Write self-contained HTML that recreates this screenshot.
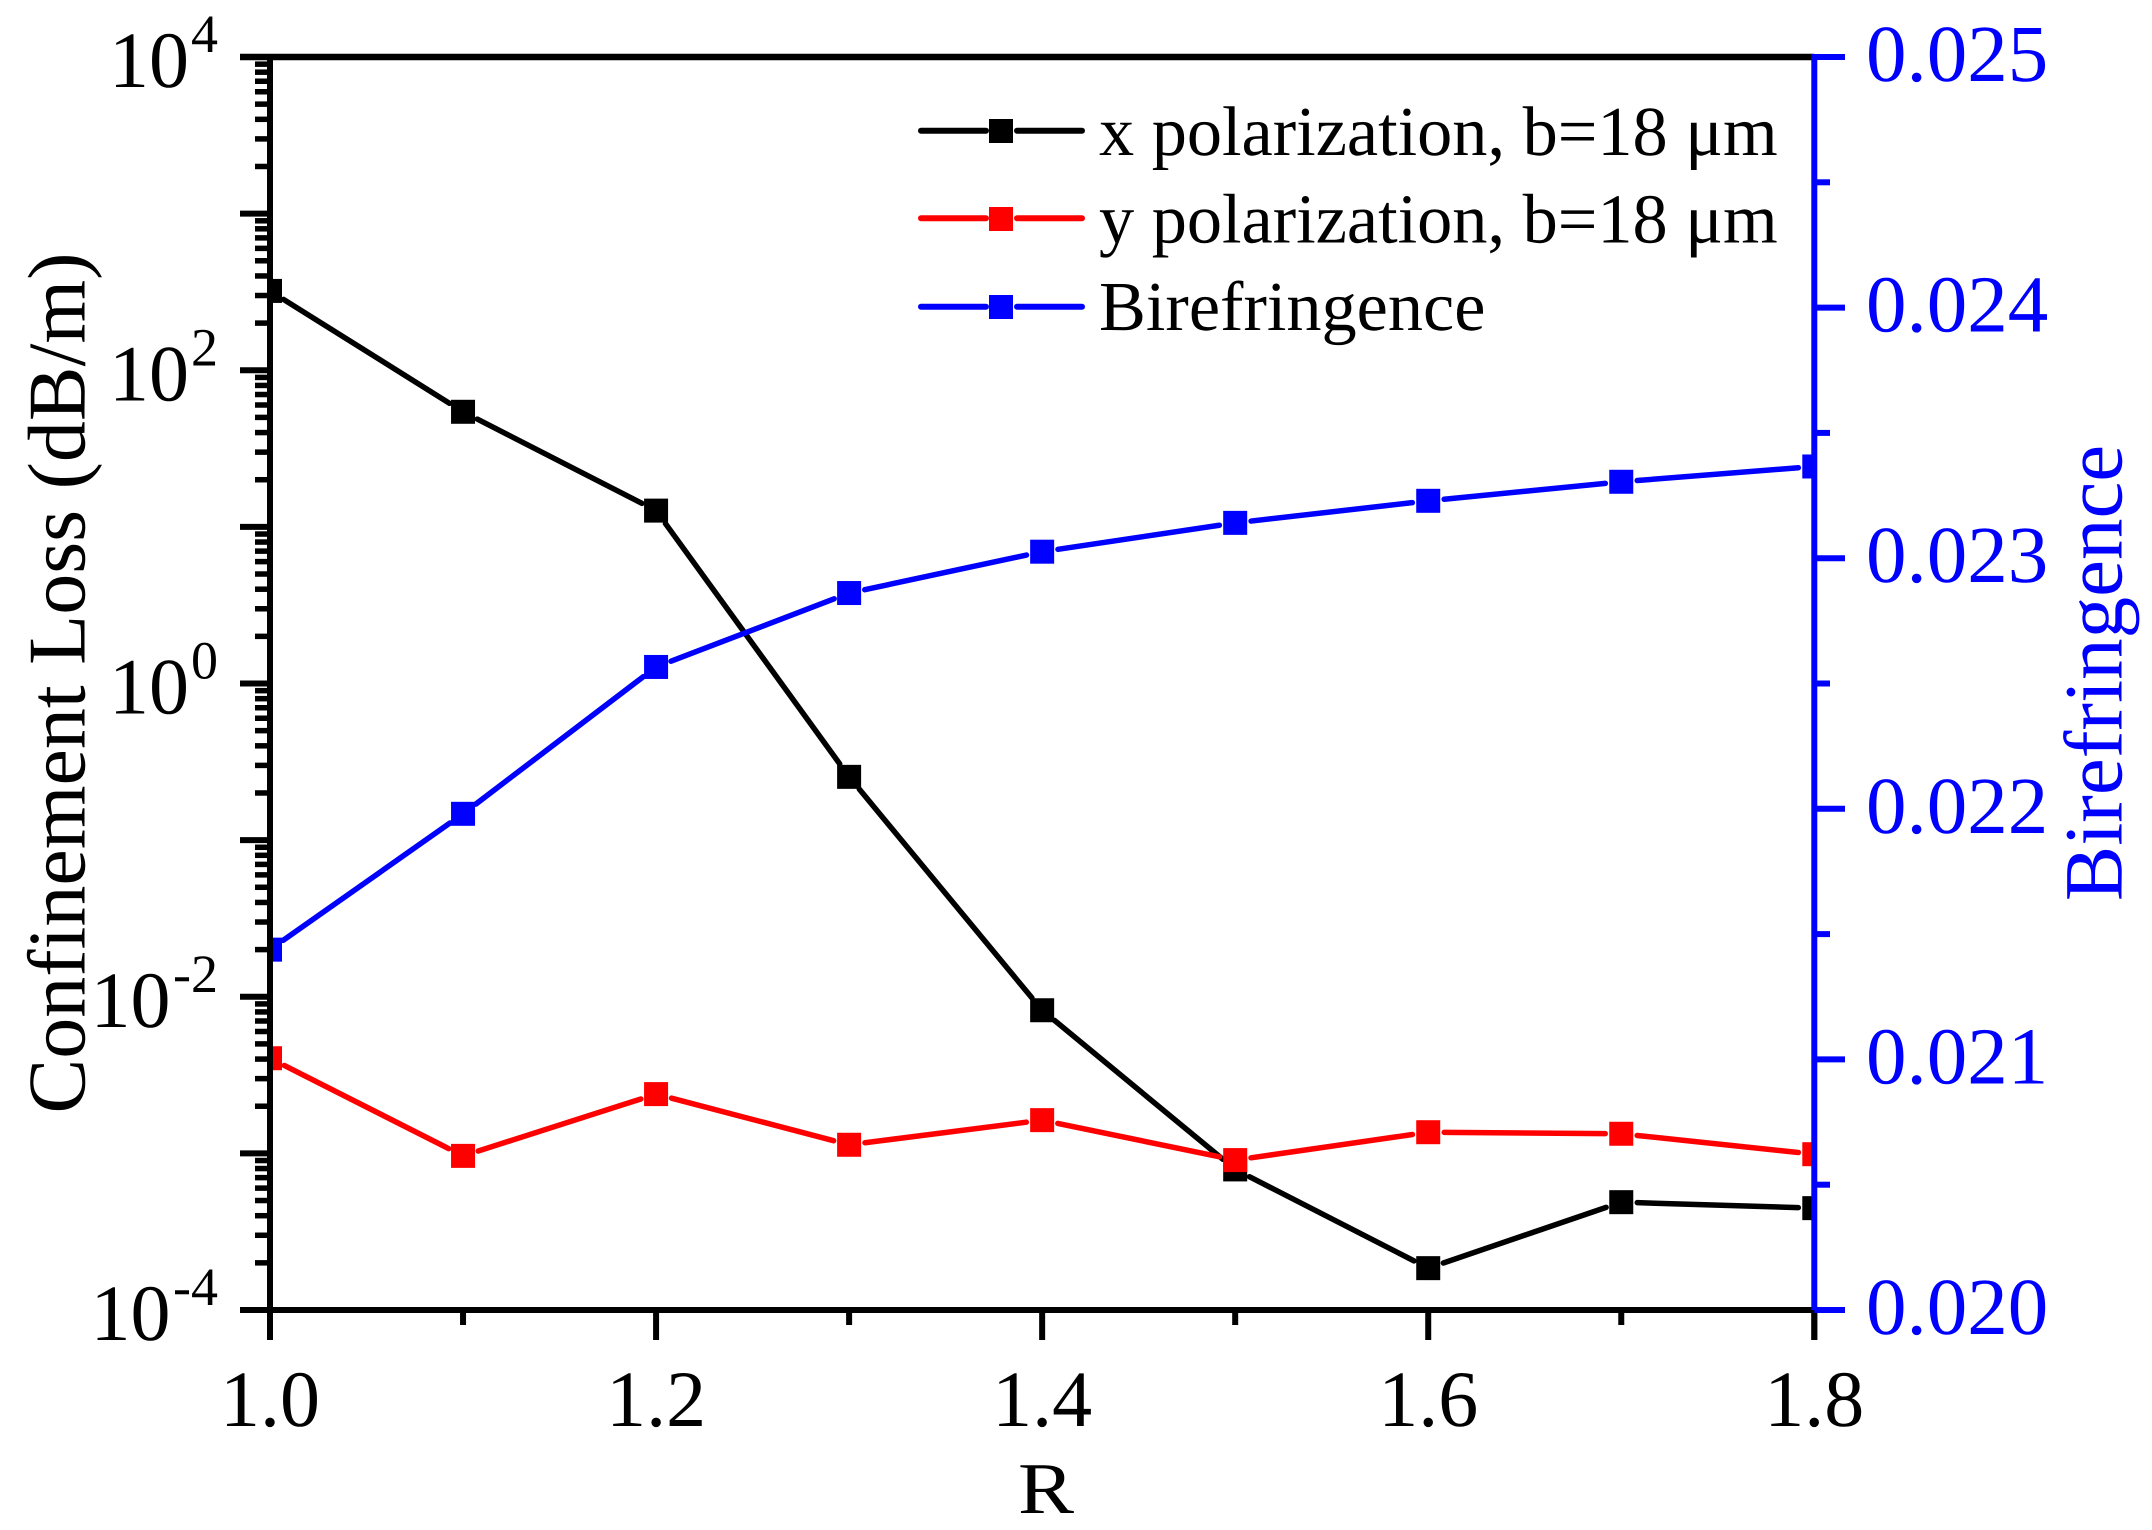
<!DOCTYPE html>
<html lang="en">
<head>
<meta charset="utf-8">
<title>Confinement Loss and Birefringence vs R</title>
<style>
html,body{margin:0;padding:0;background:#fff;width:2152px;height:1530px;overflow:hidden}
svg{display:block;font-family:"Liberation Serif",serif;text-rendering:geometricPrecision}
</style>
</head>
<body>
<svg id="chart" xmlns="http://www.w3.org/2000/svg" width="2152" height="1530" viewBox="0 0 2152 1530">
<rect width="2152" height="1530" fill="#fff"/>
<defs><clipPath id="plot-clip"><rect x="270" y="57" width="1544.3" height="1253"/></clipPath></defs>
<g id="series" clip-path="url(#plot-clip)"></g>
<g id="axes"></g>
<text font-size="82" text-anchor="middle" transform="translate(84.5 683) rotate(-90)">Confinement Loss (dB/m)</text>
<text font-size="73" text-anchor="middle" transform="translate(1046 1513) scale(1.15 1)">R</text>
<text font-size="83" fill="#0000ff" text-anchor="middle" transform="translate(2121.7 673) rotate(-90)">Birefringence</text>
<g>
<g>
<line x1="921" y1="130.7" x2="986" y2="130.7" stroke="#000" stroke-width="6" stroke-linecap="round"/>
<line x1="1017" y1="130.7" x2="1082" y2="130.7" stroke="#000" stroke-width="6" stroke-linecap="round"/>
<rect x="989" y="119" width="24" height="24" fill="#000"/>
<text x="1099" y="155" font-size="70.3">x polarization, b=18 μm</text>
</g>
<g>
<line x1="921" y1="218.3" x2="986" y2="218.3" stroke="#ff0000" stroke-width="6" stroke-linecap="round"/>
<line x1="1017" y1="218.3" x2="1082" y2="218.3" stroke="#ff0000" stroke-width="6" stroke-linecap="round"/>
<rect x="989" y="207" width="24" height="24" fill="#ff0000"/>
<text x="1099" y="242.7" font-size="70.3">y polarization, b=18 μm</text>
</g>
<g>
<line x1="921" y1="306.7" x2="986" y2="306.7" stroke="#0000ff" stroke-width="6" stroke-linecap="round"/>
<line x1="1017" y1="306.7" x2="1082" y2="306.7" stroke="#0000ff" stroke-width="6" stroke-linecap="round"/>
<rect x="989" y="295" width="24" height="24" fill="#0000ff"/>
<text x="1099" y="330" font-size="70.3">Birefringence</text>
</g>
</g>
</svg>
<script>
const categories = [1.0, 1.1, 1.2, 1.3, 1.4, 1.5, 1.6, 1.7, 1.8];
const xPolarization = [321, 54.3, 12.7, 0.2535, 0.0082, 0.00079, 0.000185, 0.000488, 0.000447];
const yPolarization = [0.00405, 0.000964, 0.00239, 0.001135, 0.00163, 0.000906, 0.001365, 0.001334, 0.000988];
const birefringence = [0.021438, 0.02198, 0.022566, 0.022861, 0.023026, 0.023141, 0.023229, 0.023305, 0.023366];
const xTicks = [1.0, 1.1, 1.2, 1.3, 1.4, 1.5, 1.6, 1.7, 1.8];
const xTickLabels = ['1.0', '', '1.2', '', '1.4', '', '1.6', '', '1.8'];
const leftDecades = [-4, -3, -2, -1, 0, 1, 2, 3, 4];
const leftLabelExponents = ['4', '2', '0', '-2', '-4'];
const rightTicks = [0.020, 0.0205, 0.021, 0.0215, 0.022, 0.0225, 0.023, 0.0235, 0.024, 0.0245, 0.025];
const rightTickLabels = ['0.020', '', '0.021', '', '0.022', '', '0.023', '', '0.024', '', '0.025'];

const NS = 'http://www.w3.org/2000/svg';
const PL = 270, PR = 1814.3, PT = 57, PB = 1310;
const xScale = v => PL + (v - 1.0) / 0.8 * (PR - PL);
const yLeft = v => PB - (Math.log10(v) + 4) / 8 * (PB - PT);
const yRight = v => PB - (v - 0.020) / 0.005 * (PB - PT);
const seriesG = document.getElementById('series');
const axesG = document.getElementById('axes');

function make(tag, attrs, parent, text) {
  const el = document.createElementNS(NS, tag);
  for (const k in attrs) el.setAttribute(k, attrs[k]);
  if (text !== undefined) el.textContent = text;
  parent.appendChild(el);
  return el;
}
function axisLine(x1, y1, x2, y2, color, w, name) {
  const el = make('line', {x1, y1, x2, y2, stroke: color, 'stroke-width': w}, axesG);
  
  
  return el;
}

function drawSeries(values, yFn, color, name) {
  const g = make('g', {}, seriesG);
  
  
  const pts = values.map((v, i) => [xScale(categories[i]), yFn(v)]);
  const GAP = 16;
  for (let i = 0; i < pts.length - 1; i++) {
    const [a, b] = [pts[i], pts[i + 1]];
    const dx = b[0] - a[0], dy = b[1] - a[1], d = Math.hypot(dx, dy);
    const ux = dx / d, uy = dy / d;
    const seg = make('line', {x1: a[0] + ux * GAP, y1: a[1] + uy * GAP, x2: b[0] - ux * GAP, y2: b[1] - uy * GAP,
      stroke: color, 'stroke-width': 5.5, 'stroke-linecap': 'round'}, g);
    
    
  }
  pts.forEach(p => {
    const m = make('rect', {x: p[0] - 12, y: p[1] - 12, width: 24, height: 24, fill: color}, g);
    
    
  });
}
drawSeries(xPolarization, yLeft, '#000000', 'x-polarization-series');
drawSeries(yPolarization, yLeft, '#ff0000', 'y-polarization-series');
drawSeries(birefringence, yRight, '#0000ff', 'birefringence-series');

/* frame */
axisLine(240, PT, PR, PT, '#000', 6.5, 'top-axis-line');
axisLine(240, PB, PR, PB, '#000', 6, 'x-axis-line');
axisLine(PL, PT - 3, PL, 1340, '#000', 6, 'left-axis-line');

/* x ticks */
xTicks.forEach((t, i) => {
  const major = xTickLabels[i] !== '';
  axisLine(xScale(t), PB, xScale(t), major ? 1340 : 1325, '#000', 6, 'x-tick');
  if (major) {
    const lab = make('text', {x: xScale(t), y: 1426, 'font-size': 80, 'text-anchor': 'middle'}, axesG, xTickLabels[i]);
    
    
  }
});

/* left log ticks */
leftDecades.forEach(d => {
  axisLine(240, yLeft(Math.pow(10, d)), PL, yLeft(Math.pow(10, d)), '#000', 6, 'left-major-tick');
  if (d < 4) {
    for (let m = 2; m <= 9; m++) {
      const y = yLeft(m * Math.pow(10, d));
      axisLine(255, y, PL, y, '#000', 5.5, 'left-minor-tick');
    }
  }
});
leftLabelExponents.forEach(e => {
  const y = yLeft(Math.pow(10, Number(e)));
  const expo = make('text', {x: 218, y: y - 5, 'font-size': 54, 'text-anchor': 'end'}, axesG, e);
  
  
  const base = make('text', {x: e.length > 1 ? 170.5 : 189, y: y + 30, 'font-size': 80, 'text-anchor': 'end'}, axesG, '10');
  
  
});

/* right axis */
axisLine(PR, PT - 3, PR, PB, '#0000ff', 6, 'right-axis-line');
axisLine(PR, PB, PR, 1340, '#000', 6, 'x-tick-end');
rightTicks.forEach((t, i) => {
  const major = rightTickLabels[i] !== '';
  const y = yRight(t);
  axisLine(PR, y, major ? 1845 : 1830, y, '#0000ff', 6, 'right-tick');
  if (major) {
    const lab = make('text', {x: 1866, y: y + 24, 'font-size': 81, fill: '#0000ff'}, axesG, rightTickLabels[i]);
    
    
  }
});
</script>
</body>
</html>
